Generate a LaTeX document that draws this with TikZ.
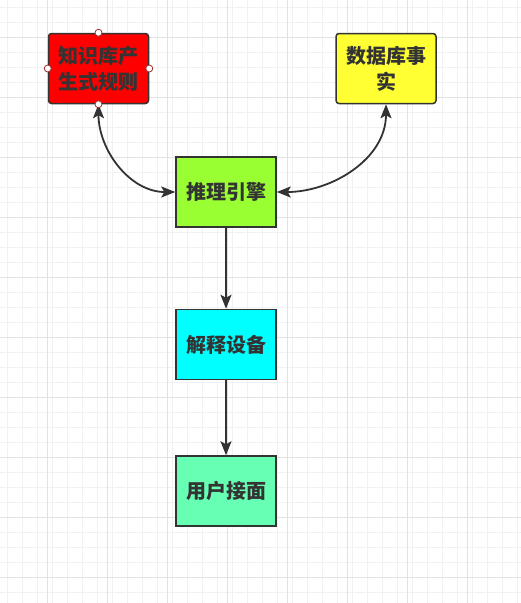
\documentclass[tikz,border=0pt]{standalone}
\usepackage{fontspec}
\newfontfamily\cjk{Noto Sans CJK SC}
\usepackage{tikz}
\usetikzlibrary{arrows.meta}

\definecolor{edgegray}{HTML}{333333}
\definecolor{txtgray}{HTML}{333333}
\definecolor{minorline}{HTML}{F1F1F1}
\definecolor{majorline}{HTML}{E2E2E2}
\definecolor{kbred}{HTML}{FF0000}
\definecolor{dbyellow}{HTML}{FFFF33}
\definecolor{engreen}{HTML}{99FF33}
\definecolor{excyan}{HTML}{00FFFF}
\definecolor{uiaqua}{HTML}{66FFB3}
\definecolor{handlered}{HTML}{A03030}

\begin{document}
\begin{tikzpicture}[
    x=1pt, y=-1pt,
    box/.style={draw=edgegray, line width=1.5pt, minimum width=100pt, minimum height=70pt, inner sep=2pt, align=center, text=txtgray, font=\cjk\bfseries\fontsize{20}{26}\selectfont},
    rbox/.style={box, rounded corners=3pt},
    handle/.style={circle, draw=handlered, fill=white, line width=0.8pt, minimum size=7pt, inner sep=0pt},
    arr/.style={-{Stealth[length=14pt, width=11pt, inset=3pt]}, line width=1.8pt, draw=edgegray},
    darr/.style={{Stealth[length=14pt, width=11pt, inset=3pt]}-{Stealth[length=14pt, width=11pt, inset=3pt]}, line width=1.8pt, draw=edgegray},
    minorgrid/.style={minorline, line width=0.8pt},
    majorgrid/.style={majorline, line width=0.8pt},
]

% ── Background grid ──
\useasboundingbox[fill=white] (0,0) rectangle (521,603);
\foreach \x in {7,22,...,517} \draw[minorgrid] (\x,0) -- (\x,603);
\foreach \y in {7,22,...,597} \draw[minorgrid] (0,\y) -- (521,\y);
\foreach \x in {47,107,...,467} \draw[majorgrid] (\x,0) -- (\x,603);
\foreach \y in {37,97,...,577} \draw[majorgrid] (0,\y) -- (521,\y);

% ── Sources ──
\node[rbox, fill=kbred] (rules) at (98.5, 68.5) {知识库产\\生式规则};
\node[rbox, fill=dbyellow] (facts) at (386, 68.5) {数据库事\\实};

% ── Chain ──
\node[box, fill=engreen] (engine) at (226, 192) {推理引擎};
\node[box, fill=excyan] (explain) at (226, 344.5) {解释设备};
\node[box, fill=uiaqua] (ui) at (226, 491) {用户接面};

% ── Arrows ──
\draw[darr] (rules.south) to[out=-90, in=180] (engine.west);
\draw[darr] (facts.south) to[out=-90, in=0] (engine.east);
\draw[arr] (engine) -- (explain);
\draw[arr] (explain) -- (ui);

% ── Selection handles ──
\node[handle] (hn) at (rules.north) {};
\node[handle] (hw) at (rules.west) {};
\node[handle] (he) at (rules.east) {};
\node[handle] (hs) at (rules.south) {};

\end{tikzpicture}
\end{document}
